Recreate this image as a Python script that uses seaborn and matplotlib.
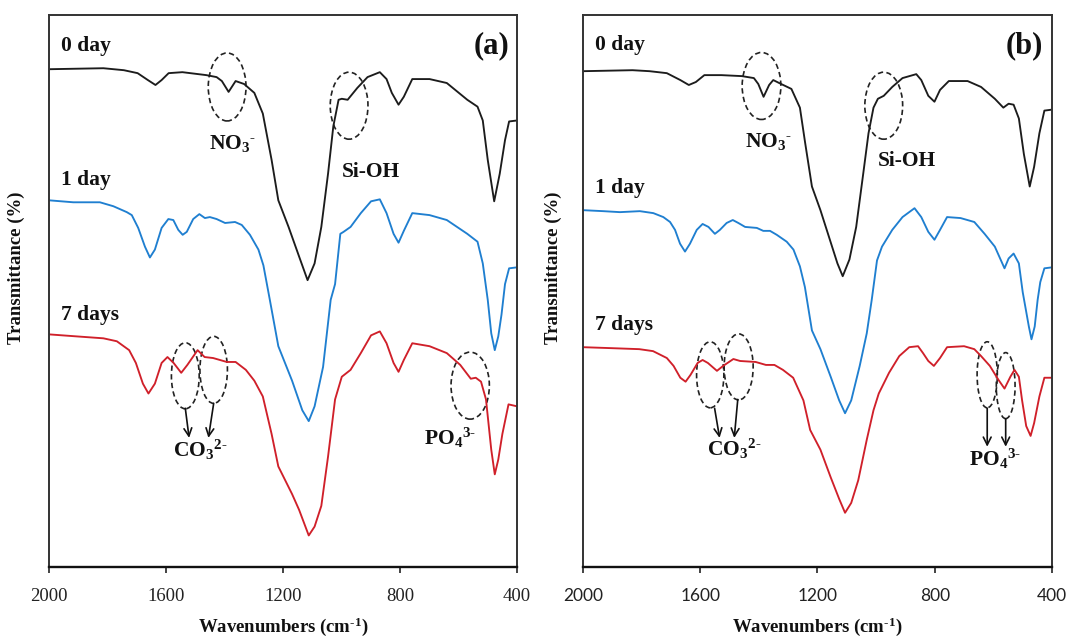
import matplotlib
matplotlib.use("Agg")
import matplotlib.pyplot as plt
from matplotlib.patches import Ellipse
import seaborn as sns
import pandas as pd

# ---------------- data (wavenumber cm-1, transmittance a.u.) ----------------
wn_a_0day = [2000,1814,1744,1697,1662,1636,1615,1591,1544,1462,1427,1409,1386,1362,1333,1298,1269,1239,1216,1181,
             1145,1116,1092,1069,1046,1028,1010,999,979,946,911,869,846,828,805,787,758,699,640,570,
             535,517,500,478,459,441,427,400]
t_a_0day = [505,506,504,501,494,489,494,501,502,499,497,493,482,493,490,481,460,413,372,345,
            315,291,308,345,399,447,474,475,474,486,497,502,495,481,469,477,495,495,491,474,
            467,453,413,371,399,433,452,453]

wn_a_1day = [2000,1917,1883,1826,1780,1734,1717,1695,1672,1655,1638,1615,1592,1575,1558,1543,1529,1507,1486,1467,
             1450,1427,1398,1364,1341,1313,1284,1267,1245,1216,1169,1134,1112,1092,1063,1037,1022,1004,993,969,
             934,899,869,846,822,805,787,758,699,640,570,535,517,500,488,476,464,453,441,427,
             400]
t_a_1day = [372,370,370,370,366,360,357,344,325,314,322,344,353,352,342,337,340,353,358,354,
            355,353,349,350,347,337,322,306,271,224,189,159,148,163,203,271,287,338,340,345,
            359,371,373,359,338,329,341,359,357,352,338,330,308,271,237,220,234,256,287,303,
            304]

wn_a_7days = [2000,1908,1814,1768,1726,1703,1679,1660,1638,1615,1595,1574,1548,1527,1492,1468,1439,1392,1362,1327,
              1298,1269,1239,1216,1169,1145,1112,1092,1069,1046,1022,999,969,934,899,869,846,822,805,787,
              758,699,640,594,558,541,523,506,488,476,464,450,429,400]
t_a_7days = [236,234,232,229,220,207,186,176,186,207,213,207,197,205,220,213,212,208,208,200,
             189,173,135,102,74,58,32,41,62,112,170,193,200,217,235,239,227,207,198,210,
             227,224,217,205,191,192,188,170,119,94,109,135,165,163]

wn_b_0day = [2000,1831,1773,1714,1668,1639,1615,1586,1528,1458,1417,1402,1384,1365,1351,1324,1289,1260,1242,1219,
             1190,1161,1132,1114,1091,1068,1044,1026,1009,994,974,945,910,863,846,822,801,782,752,688,
             642,595,566,548,531,513,496,476,461,443,426,400]
t_b_0day = [503,504,503,501,494,489,492,499,499,498,496,490,477,489,494,490,485,466,430,386,
            362,335,308,295,312,345,399,440,466,475,478,487,496,500,494,478,472,484,493,493,
            487,475,466,470,469,455,419,386,406,440,463,464]

wn_b_1day = [2000,1931,1874,1806,1760,1726,1703,1686,1669,1652,1635,1612,1592,1572,1550,1533,1510,1489,1470,1447,
             1407,1385,1362,1339,1305,1282,1260,1243,1219,1190,1155,1126,1106,1085,1056,1032,1015,997,980,945,
             910,869,846,822,801,782,758,712,665,630,595,562,548,531,513,500,479,470,459,449,
             440,426,400]
t_b_1day = [362,361,360,361,359,355,350,342,328,320,328,342,348,345,338,342,349,352,349,345,
            344,341,341,337,330,322,305,284,240,221,193,169,156,169,204,237,271,311,325,342,
            355,364,355,340,332,342,355,354,350,338,325,303,313,318,308,279,244,231,244,271,
            289,303,304]

wn_b_7days = [2000,1901,1808,1761,1714,1691,1668,1650,1633,1609,1592,1574,1543,1522,1487,1464,1411,1376,1347,1318,
              1283,1248,1225,1190,1155,1126,1106,1085,1061,1032,1009,991,956,921,887,857,840,822,803,782,
              758,700,665,642,612,583,562,542,528,513,502,488,473,461,443,426,400]
t_b_7days = [223,222,221,219,212,204,192,188,195,207,210,207,199,204,211,209,208,205,205,200,
             192,169,139,119,91,69,55,65,88,129,159,176,197,214,223,224,217,209,204,212,
             223,224,221,214,204,190,181,193,200,193,169,143,133,146,173,192,192]

series_labels = ["0 day", "1 day", "7 days"]
series_colors = ["#1c1c1c", "#1f7fd0", "#d0202a"]
x_ticks = [2000, 1600, 1200, 800, 400]
HY = "\u2010"
x_label = "Wavenumbers (cm$^{\\mathbf{" + HY + "1}}$)"
y_label = "Transmittance (%)"

# ---------------- style ----------------
sns.set_style("white")
plt.rcParams["font.family"] = ["Liberation Serif", "DejaVu Serif"]
plt.rcParams["mathtext.fontset"] = "custom"
plt.rcParams["mathtext.rm"] = "Liberation Serif"
plt.rcParams["mathtext.bf"] = "Liberation Serif:bold"
plt.rcParams["mathtext.it"] = "Liberation Serif:italic"

fig = plt.figure(figsize=(10.67, 6.37), dpi=100)
ax_a = fig.add_axes([49 / 1067, 70 / 637, 468 / 1067, 552 / 637])
ax_b = fig.add_axes([583 / 1067, 70 / 637, 469 / 1067, 552 / 637])

panels = {
    ax_a: [(wn_a_0day, t_a_0day), (wn_a_1day, t_a_1day), (wn_a_7days, t_a_7days)],
    ax_b: [(wn_b_0day, t_b_0day), (wn_b_1day, t_b_1day), (wn_b_7days, t_b_7days)],
}

for ax, curves in panels.items():
    for (wn, t), lab, col in zip(curves, series_labels, series_colors):
        df = pd.DataFrame({"wn": wn, "T": t})
        sns.lineplot(data=df, x="wn", y="T", ax=ax, color=col, lw=1.35,
                     estimator=None, sort=False, legend=False)
    ax.set_xlim(2000, 400)
    ax.set_ylim(0, 560)
    ax.set_xticks(x_ticks)
    ax.set_yticks([])
    for s in ax.spines.values():
        s.set_visible(True)
        s.set_color("#333333")
        s.set_linewidth(1.4)
    ax.spines["bottom"].set_color("#111111")
    ax.spines["bottom"].set_linewidth(1.7)
    ax.tick_params(axis="x", direction="out", length=4, width=1.2, color="#222222",
                   pad=11, bottom=True)
    ax.set_xlabel(x_label, fontsize=13.5, fontweight="bold", color="#111111")
    ax.set_ylabel(y_label, fontsize=13.5, fontweight="bold", color="#111111")
    ax.xaxis.set_label_coords(0.5, -0.088)

ax_a.yaxis.set_label_coords(-0.051, 0.543)
ax_b.yaxis.set_label_coords(-0.044, 0.543)

for lbl in ax_a.get_xticklabels():
    lbl.set_fontfamily(["Liberation Serif"])
    lbl.set_fontsize(13.5)
    lbl.set_color("#222222")
for lbl in ax_b.get_xticklabels():
    lbl.set_fontfamily(["Lato", "DejaVu Sans"])
    lbl.set_fontsize(12.5)
    lbl.set_color("#222222")

txt_kw = dict(fontsize=15.5, fontweight="bold", color="#111111")

def ell(ax, x, y, w, h):
    ax.add_patch(Ellipse((x, y), w, h, fill=False, ls=(0, (3.2, 2)), lw=1.2, ec="#222222"))

def arrow(ax, x0, y0, x1, y1):
    ax.annotate("", xy=(x1, y1), xytext=(x0, y0),
                arrowprops=dict(arrowstyle="->", lw=1.2, color="#111111",
                                shrinkA=0, shrinkB=0, mutation_scale=14))

no3 = r"$\mathbf{NO_3{}^{" + HY + r"}}$"
co3 = r"$\mathbf{CO_3{}^{2" + HY + r"}}$"
po4 = r"$\mathbf{PO_4{}^{3" + HY + r"}}$"

# ---- panel (a) ----
ax_a.text(1959, 529, "0 day", ha="left", va="center", **txt_kw)
ax_a.text(1959, 393, "1 day", ha="left", va="center", **txt_kw)
ax_a.text(1959, 256, "7 days", ha="left", va="center", **txt_kw)
ax_a.text(427, 529, "(a)", ha="right", va="center", fontsize=22, fontweight="bold", color="#111111")
ell(ax_a, 1391, 487, 129, 69)
ell(ax_a, 974, 468, 129, 68)
ax_a.text(1374, 430, no3, ha="center", va="center", **txt_kw)
ax_a.text(900, 401, "Si-OH", ha="center", va="center", **txt_kw)
ell(ax_a, 1534, 194, 95, 67)
ell(ax_a, 1437, 200, 94, 68)
arrow(ax_a, 1534, 161, 1521, 131)
arrow(ax_a, 1437, 166, 1455, 131)
ax_a.text(1483, 119, co3, ha="center", va="center", **txt_kw)
ell(ax_a, 560, 184, 131, 68)
ax_a.text(628, 131, po4, ha="center", va="center", **txt_kw)

# ---- panel (b) ----
ax_b.text(1959, 530, "0 day", ha="left", va="center", **txt_kw)
ax_b.text(1959, 384, "1 day", ha="left", va="center", **txt_kw)
ax_b.text(1959, 246, "7 days", ha="left", va="center", **txt_kw)
ax_b.text(431, 529, "(b)", ha="right", va="center", fontsize=22, fontweight="bold", color="#111111")
ell(ax_b, 1391, 488, 132, 68)
ell(ax_b, 974, 468, 129, 68)
ax_b.text(1367, 432, no3, ha="center", va="center", **txt_kw)
ax_b.text(895, 412, "Si-OH", ha="center", va="center", **txt_kw)
ell(ax_b, 1566, 195, 93, 67)
ell(ax_b, 1469, 203, 99, 67)
arrow(ax_b, 1551, 161, 1534, 131)
arrow(ax_b, 1472, 170, 1484, 131)
ax_b.text(1484, 120, co3, ha="center", va="center", **txt_kw)
ell(ax_b, 621, 195, 69, 67)
ell(ax_b, 558, 184, 64, 67)
arrow(ax_b, 621, 161, 621, 122)
arrow(ax_b, 558, 150, 558, 122)
ax_b.text(594, 110, po4, ha="center", va="center", **txt_kw)

fig.savefig("out.png", dpi=100)
